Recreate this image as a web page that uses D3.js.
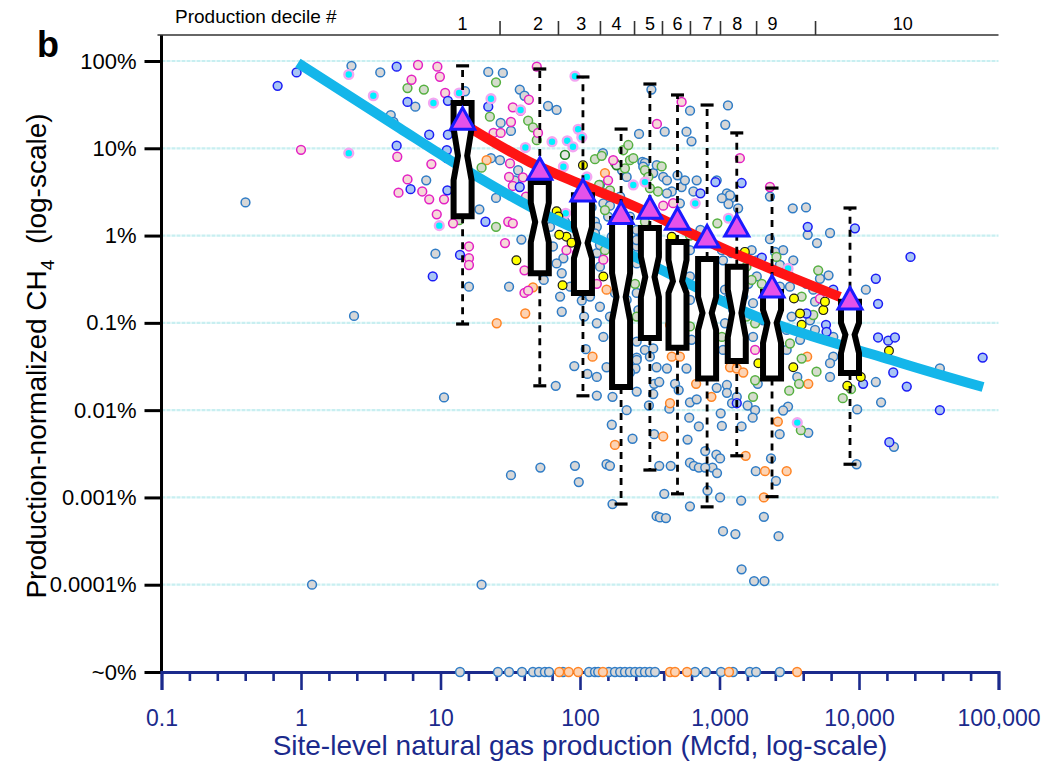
<!DOCTYPE html>
<html>
<head>
<meta charset="utf-8">
<script src="https://cdn.jsdelivr.net/npm/d3@7"></script>
<style>
  body { margin: 0; background: #fff; }
  svg { display: block; }
  text { font-family: "Liberation Sans", Arial, sans-serif; }
</style>
</head>
<body>
<svg id="chart" width="1059" height="762"></svg>
<script>
/***** Data (production in Mcfd, emissions in % of production) *****/
var xTickVals = [0.1, 1, 10, 100, 1000, 10000, 100000];
var xTickLabels = ["0.1", "1", "10", "100", "1,000", "10,000", "100,000"];
var yTickVals = [100, 10, 1, 0.1, 0.01, 0.001, 0.0001, 0.00001];
var yTickLabels = ["100%", "10%", "1%", "0.1%", "0.01%", "0.001%", "0.0001%", "~0%"];
var zeroLevel = 0.00001; // "~0%" row

var decileLabels = ["1", "2", "3", "4", "5", "6", "7", "8", "9", "10"];
var decileLabelAt = [14.4, 50, 102, 183, 317, 500, 820, 1340, 2400, 20600];
var decileBounds = [26.5, 69.5, 139, 244, 387, 614, 1008, 1830, 4840];

// notched boxes, one per decile
var boxProd = [14.4, 51.5, 105, 197, 317, 500, 815, 1330, 2380, 8620];
var boxWhiskHi = [88, 81, 65.6, 16.6, 54.5, 40.8, 31.3, 15, 3.5, 2.07];
var boxQ3 = [33, 4.1, 2.9, 1.55, 1.22, 0.845, 0.54, 0.44, 0.226, 0.174];
var boxNotchHi = [17, 2.36, 1.25, 0.37, 0.57, 0.525, 0.198, 0.24, 0.14, 0.1];
var boxMedian = [8.2, 1.43, 0.82, 0.198, 0.336, 0.30, 0.13, 0.13, 0.1, 0.073];
var boxNotchLo = [4.3, 0.84, 0.55, 0.107, 0.198, 0.22, 0.083, 0.0685, 0.059, 0.045];
var boxQ1 = [1.67, 0.37, 0.22, 0.0184, 0.067, 0.052, 0.023, 0.0366, 0.023, 0.0267];
var boxWhiskLo = [0.097, 0.019, 0.0146, 0.00084, 0.00206, 0.0011, 0.00078, 0.003, 0.00102, 0.0024];
var boxMean = [21, 5.6, 3.16, 1.74, 2.0, 1.5, 0.94, 1.25, 0.25, 0.183];

// fitted curves
var fitProd = [0.95, 5.1, 11.7, 61, 139, 730, 1008, 19700, 77500];
var fitPct = [95, 17, 7.3, 1.63, 0.89, 0.24, 0.183, 0.035, 0.0184];
var meanFitProd = [16.3, 43.5, 100, 217, 1008, 7300];
var meanFitPct = [17.1, 6.97, 3.9, 2.36, 0.74, 0.198];

// site measurements [production, emission %]
var greyPts = [[2.3,88],[3.7,74],[6.6,30],[4.4,24],[4.6,20],[7.9,4.3],[0.4,2.4],[9.2,0.62],[2.4,0.12],[10.6,0.014],[1.2,0.0001],
  [22,75],[28,73],[37,47],[40,40],[15,45],[27,19.5],[32,15.8],[23,7.7],[26.7,7.3],[36,5.6],[19,2.0],[25,2.7],[34,4.3],[48,3.2],[61,1.26],[78,1.44],[64,0.75],[76,0.55],[68,0.48],[38,0.9],[16,0.26],[31,0.26],[55,0.31],[74,0.37],[85,0.26],[72,0.2],[103,0.18],[118,0.2],[139,0.44],[132,0.63],[74,0.134],[107,0.118],[139,0.153],[178,0.22],
  [110,0.05],[91,0.032],[113,0.026],[67,0.019],[132,0.0147],[171,0.0142],[216,0.01],[169,0.0068],[238,0.0047],[32,0.0018],[52,0.0022],[92,0.0023],[155,0.0024],[164,0.0023],[98,0.0015],[171,0.00084],[19.7,0.0001],
  [218,0.03],[250,0.03],[255,0.04],[255,0.0163],[340,0.02],[370,0.021],[335,0.0153],[312,0.0113],[340,0.0053],[437,0.0104],[614,0.0123],[686,0.0133],[607,0.0082],[711,0.0065],[590,0.0046],[370,0.0023],[447,0.0023],[614,0.0025],[655,0.0023],[711,0.0022],[402,0.0011],[354,0.00061],[374,0.00059],[413,0.00058],[614,0.00079],
  [955,0.018],[1130,0.0194],[1130,0.0158],[1020,0.0092],[1040,0.0066],[790,0.0034],[950,0.0031],[1010,0.0028],[890,0.0022],[960,0.0019],[820,0.0012],[1010,0.001],[1060,0.00041],[1300,0.00038],[1230,0.012],[1590,0.0113],[1330,0.0142],[1800,0.01],[1730,0.0082],[1440,0.0065],[1820,0.002],[1430,0.00092],[2080,0.0006],[1440,0.00015],[1770,0.00011],[2100,0.00011],[1880,0.02],[3100,0.011],[2860,0.0099],[2700,0.0053],[4330,0.0055],[2340,0.0028],[2540,0.00155],[2650,0.00036],[790,0.0022],[480,0.02],[510,0.017],
  [325,47],[615,27],[1150,31],[1100,18.6],[265,14.6],[405,15.5],[580,15.5],[630,12],[280,7.0],[335,5.2],[395,4.7],[420,4.3],[535,3.6],[650,3.2],[565,4.3],[121,2.1],[139,3.8],[146,8.8],[200,5.6],[292,6.8],[355,6.4],[500,4.9],[455,3.2],[216,4.7],[194,2.8],[955,4.3],[1130,3.05],[1220,2.7],[730,1.16],[128,1.44],[132,1.26],[159,1.65],[200,0.97],[255,0.75],[216,0.32],[216,0.183],[204,0.099],[262,0.14],[255,0.061],[292,0.049],[335,0.051],[317,0.041],[255,0.0376],[510,0.073],[550,0.099],[420,0.03],[580,0.03],[810,0.118],[810,0.35],[1130,0.183],[112,0.25],[164,0.118],
  [1220,0.63],[1060,0.52],[1290,0.34],[1095,0.24],[1400,0.22],[1255,0.14],[1095,0.099],[1400,0.099],[1255,0.069],[1740,0.069],[2060,0.107],[3030,0.083],[2640,0.153],[3290,0.118],[2860,0.68],[3380,0.52],[2500,0.65],[2300,2.8],[1190,2.9],[1160,2.3],[1360,2.05],[3350,2.05],[4170,2.1],[4290,1.02],[5000,0.82],[6200,1.07],[2300,0.91],[2710,0.46],[5250,0.32],[6050,0.35],[11200,0.24],[2710,0.26],[3200,0.26],[4840,0.175],[4460,0.107],[6200,0.024],[3610,0.024],[13200,0.021],[14400,0.0123],[9700,0.0102],[38000,0.03],[17800,0.0038],[9600,0.0024],
  [284,6.15],[686,4.3],[169,0.97],[520,2.34],[1040,2.68],[420,3.05],[1700,0.68],[1850,0.52],[1850,0.34],[1610,0.28],[1480,0.2],[1740,0.168],[1480,0.069],[1400,0.058],[3200,0.34],[4200,0.28],[4700,0.24],[4840,0.083],[6540,0.069],[3780,0.064],[3030,0.049],[6540,0.041],[6200,0.0345],
  [128,1.06],[139,0.78],[147,2.34],[164,2.2],[228,1.65],[255,1.16],[255,0.89],[255,0.48],[255,0.22],[614,0.68],[614,0.34],[614,0.183],[630,0.064],[1040,0.68],[1060,0.049],[354,0.031],[228,0.027],[147,0.069],[132,0.099],[155,0.031],[132,0.024],[59,30.5],[68,27.5]];

var blueRingPts = [[0.93,74],[0.68,52],[4.85,86],[5.8,34],[11.3,35],[8.3,14.3],[11.3,14.3],[4.85,10.7],[11.1,9.5],[6.1,3.4],[11.2,3.3],[8.8,0.34],[22,30],[11.1,7.7],[21,1.44],[37,3.6],[13.8,0.6],[730,3.05],[935,4.1],[1330,0.012],[1440,4.0],[4290,1.26],[9350,1.21],[23400,0.57],[2010,0.56],[6540,0.24],[13200,0.32],[13700,0.165],[5800,0.095],[5850,0.079],[4200,0.128],[13700,0.068],[16200,0.0625],[18100,0.068],[17600,0.027],[22000,0.0186],[10700,0.02],[77000,0.04],[38000,0.01],[16500,0.0043]];

var pinkRingPts = [[1.0,9.6],[6.9,90],[9.5,86],[6.2,61],[9.9,66],[10.8,43],[4.9,8.0],[8.6,6.6],[5.8,4.4],[5.0,3.1],[7.4,3.2],[8.3,2.6],[10.6,2.6],[9.4,1.75],[12.3,1.38],[33,29.5],[37.5,27],[43,36],[32,20],[24,15],[27,15],[49,86],[50,15],[173,7.3],[31.5,6.7],[30.6,1.44],[33,1.38],[31,4.7],[39,4.65],[33,3.7],[41,2.8],[159,4.3],[80,0.68],[95,0.63],[40,0.4],[51.5,0.65],[29,0.82],[16,0.75],[16,0.55],[16,0.46],[40,0.22],[42.5,0.234],[132,0.28],[147,0.53],[356,19],[535,34],[395,2.2],[465,2.35],[1400,7.7],[2300,3.6],[1800,0.049],[5250,0.19]];

var greenRingPts = [[5.8,49],[7.6,47],[25,57],[22.6,23],[42.5,20.7],[46,17.4],[49,12.4],[128,7.5],[143,8.2],[204,9.5],[210,5.9],[19.7,6.0],[137,3.8],[151,3.05],[164,3.3],[13.6,1.5],[25,1.26],[151,0.68],[178,6.8],[228,7.3],[385,6.2],[362,3.2],[317,3.5],[965,1.38],[614,1.0],[292,5.6],[309,4.7],[222,10.9],[241,7.7],[790,0.049],[790,0.28],[1255,0.37],[1190,0.28],[2560,0.57],[5100,0.4],[1700,0.31],[2010,0.28],[3880,0.2],[9100,0.113],[3880,0.039],[3720,0.02],[3160,0.0167],[4960,0.0276],[8770,0.0174],[7650,0.0137],[1740,0.0142],[3830,0.0059],[2180,0.069],[2560,0.053],[3200,0.058],[2370,0.24],[1800,0.022],[4700,0.123],
  [151,1.96],[292,1.44],[1560,0.44],[1560,0.118],[1800,0.099],[248,0.28],[255,0.118],[614,0.091],[1040,0.069]];

var darkGreenPts = [[78,8.4],[183,6.4]];

var cyanDotPts = [[2.2,70],[3.3,40],[8.9,33],[2.2,8.8],[9.8,1.3],[13.6,43],[23,37],[92,67],[63,11.9],[81,12.2],[89,10.4],[97,16.5],[103,13.4],[40.6,10.2],[76,6.15],[112,4.7],[79,1.8],[49,0.85],[37.5,27.5],[292,4.1],[241,3.8],[670,2.34],[1160,1.58],[3100,0.42],[3610,0.0072]];

var yellowDotPts = [[105,6.4],[51.5,2.5],[68,1.9],[70,1.65],[80,0.97],[71,1.02],[87,0.83],[35,0.52],[75,0.27],[147,0.34],[345,0.93],[354,0.63],[455,0.97],[495,0.68],[550,0.5],[455,0.16],[292,0.083],[730,0.058],[1520,0.65],[1480,0.38],[3420,0.19],[3780,0.128],[3880,0.095],[5550,0.14],[5700,0.175],[16400,0.048],[10300,0.024],[8240,0.019],[3380,0.031],[1900,0.0345]];

var orangeRingPts = [[21.4,7.3],[151,5.2],[46,0.255],[155,0.24],[40.5,0.128],[25.3,0.099],[194,0.82],[442,0.095],[455,0.041],[520,0.041],[810,0.036],[680,0.02],[875,0.0142],[1190,0.031],[1330,0.03],[1480,0.027],[123,0.041],[178,0.004],[395,0.005],[442,0.012],[1540,0.003],[2120,0.002],[2080,0.001],[4330,0.02],[2620,0.0074],[3030,0.002],[4250,0.041],[2430,0.031]];

// sites with ~0% emissions (production only)
var zeroGreyProd = [13.8, 25.8, 31, 38.4, 46, 50.8, 56, 60, 75.5, 116, 128, 135, 161, 178, 194, 210, 228, 248, 269, 292, 317, 345, 667, 800, 1025, 1250, 1650, 1830, 2710];
var zeroOrangeProd = [71, 83, 97, 146, 442, 480, 585, 1170, 3600];

/***** Scales *****/
var navy = "#1b2a8c";
var x = d3.scaleLog().domain([0.1, 100000]).range([161.5, 998.5]);
var y = d3.scaleLog().domain([0.00001, 100]).range([672, 61]);
var topY = 35;

var svg = d3.select("#chart");

/***** Grid *****/
svg.append("g").selectAll("line")
  .data(yTickVals.slice(0, 7))
  .join("line")
  .attr("x1", x(0.1)).attr("x2", x(100000))
  .attr("y1", d => y(d)).attr("y2", d => y(d))
  .attr("stroke", "#c8eff1").attr("stroke-width", 2.2)
  .attr("stroke-dasharray", "4,1");

/***** Scatter *****/
function drawPoints(data, fill, stroke, sw) {
  svg.append("g").selectAll("circle")
    .data(data)
    .join("circle")
    .attr("cx", d => x(d[0]))
    .attr("cy", d => y(d[1]))
    .attr("r", 4.4)
    .attr("fill", fill)
    .attr("stroke", stroke)
    .attr("stroke-width", sw);
}
drawPoints(greyPts, "#d7d7d7", "#2f7cc6", 1.5);
drawPoints(orangeRingPts, "#fcd3b4", "#ff8424", 1.5);
drawPoints(greenRingPts, "#d5dccd", "#55b040", 1.5);
drawPoints(darkGreenPts, "#e6e6e6", "#1f7f1f", 1.6);
drawPoints(pinkRingPts, "#f6d8d8", "#e321c4", 1.5);
drawPoints(blueRingPts, "#a9c5f4", "#1a1cf5", 1.5);
drawPoints(cyanDotPts, "#00f0ff", "#f3a6f2", 2.4);
drawPoints(yellowDotPts, "#ffff00", "#1a1a1a", 1.2);

/***** Fitted curves *****/
var line = d3.line().x(d => x(d[0])).y(d => y(d[1])).curve(d3.curveMonotoneX);
svg.append("path")
  .attr("d", line(fitProd.map((p, i) => [p, fitPct[i]])))
  .attr("fill", "none").attr("stroke", "#14b6ea").attr("stroke-width", 10);
svg.append("path")
  .attr("d", line(meanFitProd.map((p, i) => [p, meanFitPct[i]])))
  .attr("fill", "none").attr("stroke", "#ff1414").attr("stroke-width", 10);

/***** Notched boxes *****/
var bw = 9, notch = 4.4;
var boxes = svg.append("g");
boxProd.forEach(function (p, i) {
  var cx = x(p);
  [[boxQ3[i], boxWhiskHi[i]], [boxQ1[i], boxWhiskLo[i]]].forEach(function (w) {
    boxes.append("line")
      .attr("x1", cx).attr("x2", cx).attr("y1", y(w[0])).attr("y2", y(w[1]))
      .attr("stroke", "#000").attr("stroke-width", 2.8).attr("stroke-dasharray", "7,6");
    boxes.append("line")
      .attr("x1", cx - 6.5).attr("x2", cx + 6.5).attr("y1", y(w[1])).attr("y2", y(w[1]))
      .attr("stroke", "#000").attr("stroke-width", 3.2);
  });
  var pts = [
    [cx - bw, y(boxQ3[i])], [cx + bw, y(boxQ3[i])], [cx + bw, y(boxNotchHi[i])],
    [cx + bw - notch, y(boxMedian[i])], [cx + bw, y(boxNotchLo[i])], [cx + bw, y(boxQ1[i])],
    [cx - bw, y(boxQ1[i])], [cx - bw, y(boxNotchLo[i])], [cx - bw + notch, y(boxMedian[i])],
    [cx - bw, y(boxNotchHi[i])]
  ];
  boxes.append("path")
    .attr("d", "M" + pts.join("L") + "Z")
    .attr("fill", "#fff").attr("stroke", "#000").attr("stroke-width", 6)
    .attr("stroke-linejoin", "miter");
});

/***** Mean triangles *****/
svg.append("g").selectAll("path")
  .data(boxMean)
  .join("path")
  .attr("d", (m, i) => {
    var cx = x(boxProd[i]), cy = y(m);
    return "M" + cx + "," + (cy - 12.5) + "L" + (cx + 12) + "," + (cy + 9) + "L" + (cx - 12) + "," + (cy + 9) + "Z";
  })
  .attr("fill", "#e452ea").attr("stroke", "#1a1aff").attr("stroke-width", 3)
  .attr("stroke-linejoin", "miter");

/***** Axes *****/
var yAxis = d3.axisLeft(y).tickValues(yTickVals)
  .tickFormat((d, i) => yTickLabels[i]).tickSize(17).tickPadding(8);
var gy = svg.append("g").attr("transform", "translate(" + x(0.1) + ",0)").call(yAxis);
gy.select(".domain").remove();
gy.selectAll(".tick line").attr("stroke", "#000").attr("stroke-width", 3);
gy.selectAll(".tick text").attr("fill", "#000").style("font-size", "22px");
svg.append("line")
  .attr("x1", x(0.1)).attr("x2", x(0.1)).attr("y1", topY).attr("y2", y(zeroLevel))
  .attr("stroke", "#000").attr("stroke-width", 3);

var minorTicks = [];
for (var k = -1; k < 5; k++) for (var j = 1; j < 5; j++) minorTicks.push(Math.pow(10, k + j / 5));
var gxm = svg.append("g").attr("transform", "translate(0," + y(zeroLevel) + ")")
  .call(d3.axisBottom(x).tickValues(minorTicks).tickSize(9).tickFormat(""));
gxm.select(".domain").remove();
gxm.selectAll(".tick line").attr("stroke", navy).attr("stroke-width", 2.6);

var gx = svg.append("g").attr("transform", "translate(0," + y(zeroLevel) + ")")
  .call(d3.axisBottom(x).tickValues(xTickVals).tickFormat((d, i) => xTickLabels[i]).tickSize(18).tickPadding(20));
gx.select(".domain").attr("stroke", navy).attr("stroke-width", 3);
gx.selectAll(".tick line").attr("stroke", navy).attr("stroke-width", 2.6);
gx.selectAll(".tick text").attr("fill", navy).style("font-size", "23px");

// decile axis on top
var gt = svg.append("g").attr("transform", "translate(0," + topY + ")")
  .call(d3.axisTop(x).tickValues(decileBounds).tickSize(14).tickFormat(""));
gt.select(".domain").attr("d", "M" + (x(0.1) - 4) + ",0H" + x(100000)).attr("stroke", "#333").attr("stroke-width", 1.6);
gt.selectAll(".tick line").attr("stroke", "#333").attr("stroke-width", 1.6);
svg.append("g").selectAll("text")
  .data(decileLabels)
  .join("text")
  .attr("x", (d, i) => x(decileLabelAt[i]))
  .attr("y", 30)
  .attr("text-anchor", "middle")
  .style("font-size", "18px")
  .text(d => d);
svg.append("text").attr("x", 175).attr("y", 23).style("font-size", "19px").text("Production decile #");

/***** Sites at ~0% *****/
svg.append("g").selectAll("circle")
  .data(zeroGreyProd)
  .join("circle")
  .attr("cx", d => x(d)).attr("cy", y(zeroLevel)).attr("r", 4.4)
  .attr("fill", "#d7d7d7").attr("stroke", "#2f7cc6").attr("stroke-width", 1.5);
svg.append("g").selectAll("circle")
  .data(zeroOrangeProd)
  .join("circle")
  .attr("cx", d => x(d)).attr("cy", y(zeroLevel)).attr("r", 4.4)
  .attr("fill", "#fcd3b4").attr("stroke", "#ff8424").attr("stroke-width", 1.5);

/***** Titles *****/
svg.append("text").attr("x", 37).attr("y", 57)
  .style("font-size", "36px").style("font-weight", "bold").text("b");

svg.append("text").attr("x", 580).attr("y", 755)
  .attr("text-anchor", "middle").attr("fill", navy).style("font-size", "28px")
  .text("Site-level natural gas production (Mcfd, log-scale)");

var yt = svg.append("text")
  .attr("transform", "translate(46,356) rotate(-90)")
  .attr("text-anchor", "middle").style("font-size", "28px");
yt.append("tspan").text("Production-normalized CH");
yt.append("tspan").attr("dy", 8).style("font-size", "19px").text("4");
yt.append("tspan").attr("dy", -8).text("\u00a0\u00a0(log-scale)");
</script>
</body>
</html>
